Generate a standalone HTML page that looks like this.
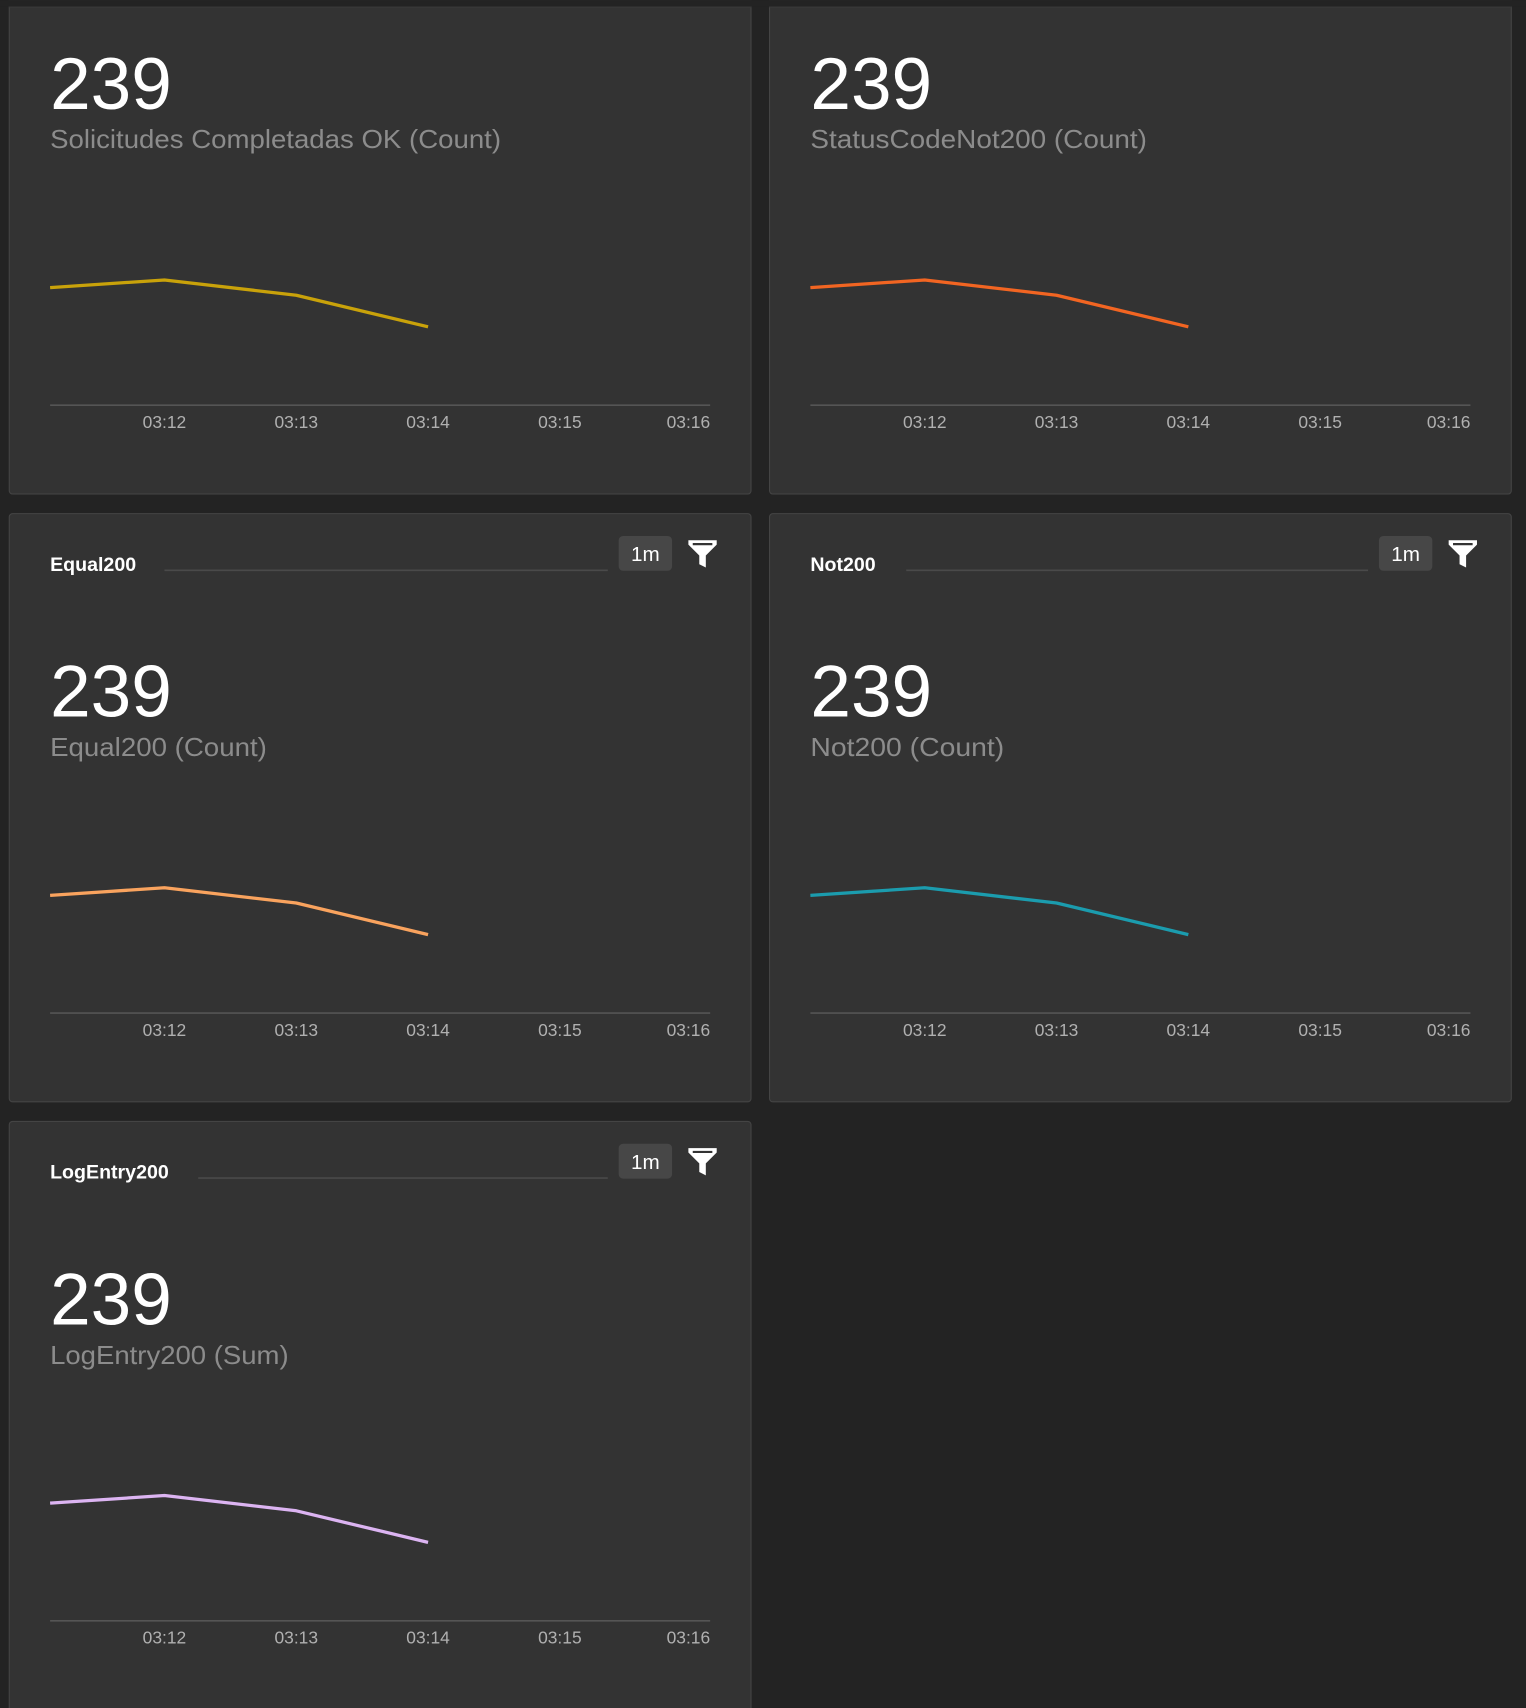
<!DOCTYPE html>
<html><head><meta charset="utf-8"><style>
html,body{margin:0;padding:0;background:#232323;width:1526px;height:1708px;overflow:hidden}
svg{display:block}
text{font-family:"Liberation Sans",sans-serif}
</style></head><body>
<svg width="1526" height="1708" viewBox="0 0 1401 1568" xmlns="http://www.w3.org/2000/svg">
<rect width="1401" height="1568" fill="#232323"/>
<defs>
<g id="axis">
  <line x1="38" y1="459" x2="644" y2="459" stroke="#555" stroke-width="1.5"/>
  <g font-size="16" fill="#b0b0b0" text-anchor="middle">
    <text x="143" y="480">03:12</text><text x="264" y="480">03:13</text><text x="385" y="480">03:14</text><text x="506" y="480">03:15</text><text x="644" y="480" text-anchor="end">03:16</text>
  </g>
  <text x="38" y="187" font-size="67" fill="#fff">239</text>
</g>
<g id="hdr">
  <rect x="560" y="21" width="49" height="32" rx="4" fill="#474747"/>
  <text x="584.5" y="44" font-size="19" fill="#fff" text-anchor="middle">1m</text>
  <path d="M624,25 H650 V29 L640,39 V50 L634,47 V39 L624,29 Z" fill="#fff"/>
  <path d="M628,28.5 H646" stroke="#333" stroke-width="2"/>
</g>
</defs>

<!-- Row 1 -->
<g transform="translate(8,-87)">
  <rect x="0.5" y="0.5" width="681" height="540" rx="3" fill="#333" stroke="#444"/>
  <use href="#axis"/>
  <text x="38" y="223" font-size="24" fill="#8c8c8c" textLength="414" lengthAdjust="spacingAndGlyphs">Solicitudes Completadas OK (Count)</text>
  <polyline points="38,351 143,344 264,358 385,387" fill="none" stroke="#c9a20a" stroke-width="3" stroke-linejoin="round"/>
</g>
<g transform="translate(706,-87)">
  <rect x="0.5" y="0.5" width="681" height="540" rx="3" fill="#333" stroke="#444"/>
  <use href="#axis"/>
  <text x="38" y="223" font-size="24" fill="#8c8c8c" textLength="309" lengthAdjust="spacingAndGlyphs">StatusCodeNot200 (Count)</text>
  <polyline points="38,351 143,344 264,358 385,387" fill="none" stroke="#f26522" stroke-width="3" stroke-linejoin="round"/>
</g>
<rect x="0" y="0" width="1401" height="6" fill="#232323"/>
<line x1="8" y1="6.5" x2="690" y2="6.5" stroke="#3a3a3a"/>
<line x1="706" y1="6.5" x2="1388" y2="6.5" stroke="#3a3a3a"/>

<!-- Row 2 -->
<g transform="translate(8,471)">
  <rect x="0.5" y="0.5" width="681" height="540" rx="3" fill="#333" stroke="#444"/>
  <use href="#axis"/><use href="#hdr"/>
  <text x="38" y="53" font-size="18" font-weight="bold" fill="#fff">Equal200</text>
  <line x1="143" y1="52.5" x2="550" y2="52.5" stroke="#4a4a4a" stroke-width="1.5"/>
  <text x="38" y="223" font-size="24" fill="#8c8c8c" textLength="199" lengthAdjust="spacingAndGlyphs">Equal200 (Count)</text>
  <polyline points="38,351 143,344 264,358 385,387" fill="none" stroke="#f9a35e" stroke-width="3" stroke-linejoin="round"/>
</g>
<g transform="translate(706,471)">
  <rect x="0.5" y="0.5" width="681" height="540" rx="3" fill="#333" stroke="#444"/>
  <use href="#axis"/><use href="#hdr"/>
  <text x="38" y="53" font-size="18" font-weight="bold" fill="#fff">Not200</text>
  <line x1="126" y1="52.5" x2="550" y2="52.5" stroke="#4a4a4a" stroke-width="1.5"/>
  <text x="38" y="223" font-size="24" fill="#8c8c8c" textLength="178" lengthAdjust="spacingAndGlyphs">Not200 (Count)</text>
  <polyline points="38,351 143,344 264,358 385,387" fill="none" stroke="#1b9cae" stroke-width="3" stroke-linejoin="round"/>
</g>

<!-- Row 3 -->
<g transform="translate(8,1029)">
  <rect x="0.5" y="0.5" width="681" height="600" rx="3" fill="#333" stroke="#444"/>
  <use href="#axis"/><use href="#hdr"/>
  <text x="38" y="53" font-size="18" font-weight="bold" fill="#fff">LogEntry200</text>
  <line x1="174" y1="52.5" x2="550" y2="52.5" stroke="#4a4a4a" stroke-width="1.5"/>
  <text x="38" y="223" font-size="24" fill="#8c8c8c" textLength="219" lengthAdjust="spacingAndGlyphs">LogEntry200 (Sum)</text>
  <polyline points="38,351 143,344 264,358 385,387" fill="none" stroke="#dcb4f2" stroke-width="3" stroke-linejoin="round"/>
</g>
</svg>
</body></html>
